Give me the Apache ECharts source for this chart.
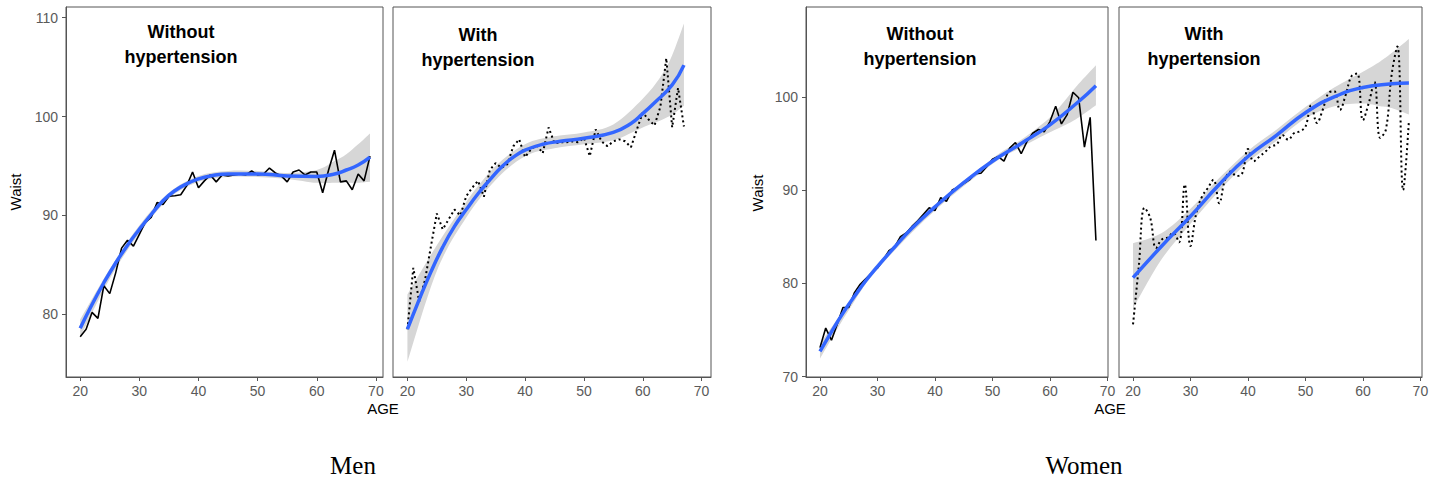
<!DOCTYPE html>
<html>
<head>
<meta charset="utf-8">
<title>Waist by age</title>
<script src="https://cdn.jsdelivr.net/npm/echarts@6/dist/echarts.min.js"></script>
<style>
  html, body { margin: 0; padding: 0; background: #fff; }
  #main { width: 1443px; height: 481px; }
</style>
</head>
<body>
<div id="main"></div>
<script type="text/javascript">
// tick labels
var ageTicks = [20, 30, 40, 50, 60, 70];
var menWaistTicks = [80, 90, 100, 110];
var womenWaistTicks = [70, 80, 90, 100];

// Men, without hypertension (solid line)
var menNoHtAge = [20,21,22,23,24,25,26,27,28,29,30,31,32,33,34,35,36,37,38,39,40,41,42,43,44,45,46,47,48,49,50,51,52,53,54,55,56,57,58,59,60,61,62,63,64,65,66,67,68,69];
var menNoHtWaist = [77.75,78.5,80.2,79.6,82.9,82.1,84.2,86.7,87.5,86.9,88.1,89.3,89.8,91.3,91.1,91.95,92.0,92.1,93.0,94.4,92.8,93.5,94.1,93.4,94.1,94.0,94.1,94.2,94.1,94.5,94.1,94.2,94.8,94.3,94.0,93.4,94.4,94.6,94.1,94.4,94.4,92.3,94.6,96.6,93.4,93.5,92.6,94.2,93.5,96.0];
var menNoHtFitAge = [20,22,24,26,28,30,32,34,36,38,40,42,45,50,55,60,63,65,67,69];
var menNoHtFit = [78.6,81.0,83.2,85.2,87.0,88.6,90.1,91.5,92.5,93.2,93.7,94.0,94.2,94.2,94.0,93.95,94.2,94.6,95.1,95.9];
var menNoHtBandAge = [20,25,30,35,40,45,50,55,60,63,65,67,69];
var menNoHtUpper = [79.5,84.6,89.0,92.3,94.0,94.5,94.5,94.3,94.6,95.5,96.2,97.2,98.3];
var menNoHtLower = [77.7,83.6,88.2,91.7,93.4,93.9,93.9,93.7,93.3,93.3,93.3,93.3,93.4];

// Men, with hypertension (dotted line)
var menHtAge = [20,21,22,23,24,25,26,27,28,29,30,31,32,33,34,35,36,37,38,39,40,41,42,43,44,45,46,47,48,49,50,51,52,53,54,55,56,57,58,59,60,61,62,63,64,65,66,67];
var menHtWaist = [78.5,84.7,81.3,83.5,86.9,90.2,88.6,89.6,90.6,90.0,91.95,92.8,93.5,91.9,94.6,95.3,94.8,95.2,97.0,97.7,95.9,96.7,97.1,96.3,98.9,97.3,97.4,97.4,97.5,97.4,97.85,96.0,98.7,97.5,97.0,97.5,97.7,97.5,96.9,98.7,100.4,99.7,99.1,101.0,105.9,98.9,102.9,99.0];
var menHtFitAge = [20,22,24,26,28,30,32,34,36,38,40,43,46,50,55,58,60,62,65,67];
var menHtFit = [78.5,81.5,84.3,86.8,88.9,90.6,92.2,93.6,94.9,95.9,96.6,97.2,97.5,97.8,98.4,99.3,100.3,101.4,103.2,105.2];
var menHtBandAge = [20,25,30,35,40,45,50,55,60,63,65,67];
var menHtUpper = [82.0,87.0,91.4,95.0,97.2,98.0,98.4,99.2,101.8,104.0,106.2,109.4];
var menHtLower = [75.2,84.4,89.8,93.6,96.0,96.8,97.2,97.6,98.9,99.6,100.2,101.1];

// Women, without hypertension (solid line)
var womenNoHtAge = [20,21,22,23,24,25,26,27,28,29,30,31,32,33,34,35,36,37,38,39,40,41,42,43,44,45,46,47,48,49,50,51,52,53,54,55,56,57,58,59,60,61,62,63,64,65,66,67,68];
var womenNoHtWaist = [73.1,75.2,73.9,75.6,77.4,77.4,79.0,79.9,80.5,81.1,81.65,82.5,83.5,83.9,85.0,85.4,86.1,86.7,87.4,88.1,87.8,89.2,88.8,90.0,90.3,90.7,91.1,91.75,91.8,92.5,93.3,93.6,93.1,94.5,95.1,93.9,95.2,96.1,96.5,96.25,97.35,99.0,97.1,98.1,100.5,99.9,94.6,97.8,84.6];
var womenNoHtFitAge = [20,22,24,26,28,30,33,36,40,45,50,55,60,65,68];
var womenNoHtFit = [72.7,74.8,76.8,78.6,80.3,81.8,83.9,85.9,88.2,90.8,93.1,95.0,97.0,99.5,101.2];
var womenNoHtBandAge = [20,25,30,40,50,55,60,63,65,68];
var womenNoHtUpper = [73.5,77.9,82.1,88.4,93.4,95.4,97.8,99.9,101.4,103.4];
var womenNoHtLower = [71.9,77.1,81.5,87.8,92.8,94.6,96.2,97.1,97.8,99.1];

// Women, with hypertension (dotted line)
var womenHtAge = [20,21,22,23,24,25,26,27,28,29,30,31,32,33,34,35,36,37,38,39,40,41,42,43,44,45,46,47,48,49,50,51,52,53,54,55,56,57,58,59,60,61,62,63,64,65,66,67,68];
var womenHtWaist = [75.6,81.8,88.1,87.0,83.8,84.7,84.9,85.4,84.4,90.6,84.0,87.5,89.3,90.2,91.1,88.6,91.1,92.0,91.5,91.8,94.4,93.1,93.6,94.1,94.7,94.9,95.9,95.4,96.1,96.3,96.8,99.1,97.2,98.6,100.4,100.6,98.6,100.2,102.2,102.5,97.5,99.3,101.6,95.6,96.5,102.4,105.4,90.0,97.4];
var womenHtFitAge = [20,25,30,35,40,45,50,55,60,65,68];
var womenHtFit = [80.6,84.0,87.2,90.6,93.6,95.9,98.3,100.0,101.0,101.4,101.5];
var womenHtBandAge = [20,25,30,35,40,45,50,55,60,63,65,68];
var womenHtUpper = [84.3,85.4,88.0,91.3,94.2,96.5,98.9,101.0,102.7,103.8,104.7,106.2];
var womenHtLower = [77.3,82.6,86.4,89.9,93.0,95.3,97.7,99.0,99.3,99.0,98.8,98.1];

var axisColor = '#555';
var labelFont = 'Liberation Sans';

function pairs(xs, ys) {
    return xs.map(function (x, i) { return [x, ys[i]]; });
}

// cubic segments through pixel points (catmull-rom), continuing an open path
function curveThrough(pts) {
    var d = '';
    for (var i = 0; i < pts.length - 1; i++) {
        var p0 = pts[i - 1] || pts[i], p1 = pts[i], p2 = pts[i + 1], p3 = pts[i + 2] || pts[i + 1];
        var c1x = p1[0] + (p2[0] - p0[0]) / 6, c1y = p1[1] + (p2[1] - p0[1]) / 6;
        var c2x = p2[0] - (p3[0] - p1[0]) / 6, c2y = p2[1] - (p3[1] - p1[1]) / 6;
        d += 'C' + c1x + ',' + c1y + ' ' + c2x + ',' + c2y + ' ' + p2[0] + ',' + p2[1];
    }
    return d;
}

function xAxisFor(idx, min, max) {
    return {
        type: 'value', gridIndex: idx, min: min, max: max, z: 10,
        splitLine: { show: false },
        axisLine: { show: true, onZero: false, lineStyle: { color: axisColor, width: 1 } },
        axisTick: { show: true, customValues: ageTicks, length: 4, lineStyle: { color: axisColor } },
        axisLabel: { customValues: ageTicks, color: '#5a5a5a', fontSize: 14, fontFamily: labelFont, margin: 7 }
    };
}

function yAxisFor(idx, min, max, ticks) {
    var show = ticks != null;
    return {
        type: 'value', gridIndex: idx, min: min, max: max, z: 10,
        splitLine: { show: false },
        axisLine: { show: show, onZero: false, lineStyle: { color: axisColor, width: 1 } },
        axisTick: { show: show, customValues: ticks || [], length: 4, lineStyle: { color: axisColor } },
        axisLabel: { show: show, customValues: ticks || [], color: '#5a5a5a', fontSize: 14, fontFamily: labelFont, margin: 8 }
    };
}

// gray confidence band, raw means, smoothed fit
function panelSeries(idx, ages, waist, dotted, fitAge, fit, bandAge, upper, lower) {
    var base = { xAxisIndex: idx, yAxisIndex: idx, silent: true };
    return [
        Object.assign({}, base, {
            type: 'custom', z: 1,
            data: [[bandAge[0], upper[0]]],
            renderItem: function (params, api) {
                var up = bandAge.map(function (a, i) { return api.coord([a, upper[i]]); });
                var lo = bandAge.map(function (a, i) { return api.coord([a, lower[i]]); }).reverse();
                var d = 'M' + up[0][0] + ',' + up[0][1] + curveThrough(up) +
                    'L' + lo[0][0] + ',' + lo[0][1] + curveThrough(lo) + 'Z';
                return { type: 'path', shape: { pathData: d }, style: { fill: '#d6d6d6' } };
            }
        }),
        Object.assign({}, base, {
            type: 'line', symbol: 'none', z: 3,
            data: pairs(ages, waist), smooth: dotted && idx === 3 ? 0.4 : false,
            lineStyle: dotted
                ? { color: '#000', width: 2, type: [2, 3] }
                : { color: '#000', width: 1.6 }
        }),
        Object.assign({}, base, {
            type: 'line', symbol: 'none', z: 4,
            data: pairs(fitAge, fit), smooth: true,
            lineStyle: { color: '#3366ff', width: 3.5 }
        })
    ];
}

function label(text, x, y, font, rotation) {
    return {
        type: 'text', x: x, y: y, rotation: rotation || 0, silent: true,
        style: {
            text: text, x: 0, y: 0, font: font, fill: '#000',
            align: 'center', verticalAlign: 'middle',
            textAlign: 'center', textVerticalAlign: 'middle', lineHeight: 25
        }
    };
}

var gridBox = { show: true, borderColor: axisColor, borderWidth: 1, backgroundColor: 'transparent' };
var titleFont = 'bold 18px "Liberation Sans"';
var axisNameFont = '15px "Liberation Sans"';
var captionFont = '25px "Liberation Serif"';

var myChart = echarts.init(document.getElementById('main'), null, { renderer: 'svg' });

var option = {
    animation: false,
    backgroundColor: '#fff',
    grid: [
        Object.assign({ left: 66, top: 7, width: 317, height: 370 }, gridBox),
        Object.assign({ left: 393, top: 7, width: 318, height: 370 }, gridBox),
        Object.assign({ left: 806, top: 7, width: 302, height: 370 }, gridBox),
        Object.assign({ left: 1119, top: 7, width: 303, height: 370 }, gridBox)
    ],
    xAxis: [
        xAxisFor(0, 17.6, 71.2),
        xAxisFor(1, 17.55, 71.6),
        xAxisFor(2, 17.57, 70.1),
        xAxisFor(3, 17.56, 70.28)
    ],
    yAxis: [
        yAxisFor(0, 73.67, 111.08, menWaistTicks),
        yAxisFor(1, 73.67, 111.08, null),
        yAxisFor(2, 69.95, 109.64, womenWaistTicks),
        yAxisFor(3, 69.95, 109.64, null)
    ],
    graphic: [
        label('Without\nhypertension', 181, 44, titleFont),
        label('With\nhypertension', 478, 47, titleFont),
        label('Without\nhypertension', 920, 46, titleFont),
        label('With\nhypertension', 1204, 46, titleFont),
        label('Waist', 15, 192, axisNameFont, Math.PI / 2),
        label('Waist', 757, 193, axisNameFont, Math.PI / 2),
        label('AGE', 383, 408, axisNameFont),
        label('AGE', 1110, 408, axisNameFont),
        label('Men', 353, 465, captionFont),
        label('Women', 1084, 465, captionFont)
    ],
    series: [].concat(
        panelSeries(0, menNoHtAge, menNoHtWaist, false, menNoHtFitAge, menNoHtFit, menNoHtBandAge, menNoHtUpper, menNoHtLower),
        panelSeries(1, menHtAge, menHtWaist, true, menHtFitAge, menHtFit, menHtBandAge, menHtUpper, menHtLower),
        panelSeries(2, womenNoHtAge, womenNoHtWaist, false, womenNoHtFitAge, womenNoHtFit, womenNoHtBandAge, womenNoHtUpper, womenNoHtLower),
        panelSeries(3, womenHtAge, womenHtWaist, true, womenHtFitAge, womenHtFit, womenHtBandAge, womenHtUpper, womenHtLower)
    )
};

myChart.setOption(option);
</script>
</body>
</html>
